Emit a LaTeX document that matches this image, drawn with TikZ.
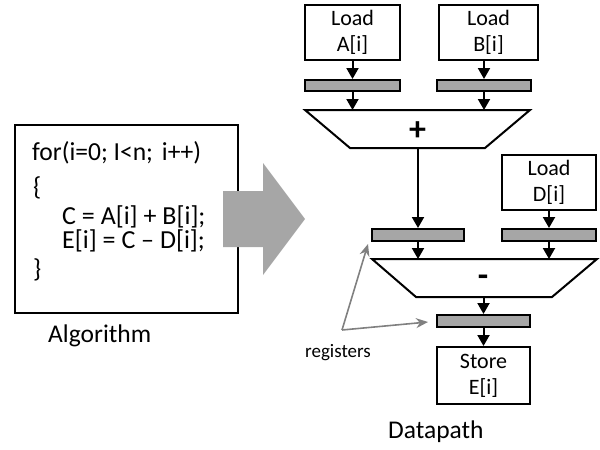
\documentclass[tikz,border=0pt]{standalone}
\usepackage{graphicx}
\usepackage{fontspec}
\setmainfont{Carlito}
\usetikzlibrary{arrows.meta}
\definecolor{regfill}{HTML}{A6A6A6}
\definecolor{bigarrow}{HTML}{A6A6A6}
\definecolor{pointer}{HTML}{808080}

\begin{document}
\begin{tikzpicture}[x=1pt,y=-1pt,
  box/.style={draw, line width=2pt, minimum width=95pt, minimum height=55pt,
    inner sep=0pt, align=center, font=\fontsize{22}{26}\selectfont},
  reg/.style={draw, line width=2pt, fill=regfill, minimum height=11pt,
    inner sep=0pt},
  flow/.style={line width=2pt, -{Triangle[length=11pt,width=12pt]}},
  ptr/.style={draw=pointer, line width=1.6pt, -{Stealth[length=12pt,width=10pt]}},
  unit/.style={draw, line width=2pt, line join=miter},
  code/.style={anchor=base west, inner sep=0pt, font=\fontsize{26}{30}\selectfont},
  caption/.style={anchor=base west, inner sep=0pt, font=\fontsize{25.5}{30}\selectfont},
  opsign/.style={inner sep=0pt, font=\fontsize{34}{36}\selectfont\bfseries},
]
\useasboundingbox (0,0) rectangle (600,450);

% ---------- algorithm ----------
\node[draw, line width=2pt, minimum width=223pt, minimum height=188pt,
  inner sep=0pt] (alg) at (126.5,219) {};
\node[code] (c1) at (32,160) {\resizebox{169pt}{\height}{for(i=0; I<n;\hspace{0.35em}i++)}};
\node[code] (c2) at (33,195) {\{};
\node[code] (c3) at (62,224) {C = A[i] + B[i];};
\node[code] (c4) at (62,248) {E[i] = C – D[i];};
\node[code] (c5) at (33,277) {\}};
\node[caption] (algcap) at (48,342) {Algorithm};

% big arrow from algorithm to datapath
\fill[bigarrow] (223,191) -- (263,191) -- (263,163) -- (305,219)
  -- (263,275) -- (263,247) -- (223,247) -- cycle;

% ---------- datapath ----------
\node[box] (la) at (352.5,32.5) {Load\\A[i]};
\node[box, minimum width=99pt] (lb) at (488.5,32.5) {Load\\B[i]};
\node[reg, minimum width=95pt] (ra) at (352.5,85.5) {};
\node[reg, minimum width=94pt] (rb) at (484,85.5) {};

% adder
\draw[unit] (305,110) -- (530,110) -- (485,148) -- (350,148) -- cycle;
\coordinate (addtop) at (417.5,110);
\coordinate (addout) at (418,148);
\node[opsign] (plus) at (417.5,131) {+};

\node[box, minimum width=94pt] (ld) at (549,182.5) {Load\\D[i]};
\node[reg, minimum width=92pt, minimum height=12pt] (rc) at (418,235) {};
\node[reg, minimum width=94pt, minimum height=12pt] (rd) at (549,235) {};

% subtractor
\draw[unit] (372,259) -- (597,259) -- (552,297) -- (416,297) -- cycle;
\coordinate (subtop) at (484,259);
\coordinate (subout) at (483.5,297);
\node[opsign] (minus) at (483,281) {-};

\node[reg, minimum width=93pt, minimum height=12pt] (re) at (483.5,321) {};
\node[box, minimum width=93pt, minimum height=57pt] (st) at (483.5,375.5) {Store\\E[i]};

% data flow
\draw[flow] (la.south -| ra) -- (ra.north);
\draw[flow] (lb.south -| rb) -- (rb.north);
\draw[flow] (ra.south) -- (ra |- addtop);
\draw[flow] (rb.south) -- (rb |- addtop);
\draw[flow] (addout) -- (rc.north);
\draw[flow] (ld.south) -- (rd.north);
\draw[flow] (rc.south) -- (rc |- subtop);
\draw[flow] (rd.south) -- (rd |- subtop);
\draw[flow] (subout) -- (re.north);
\draw[flow] (re.south) -- (st.north);

% register callout
\coordinate (regsrc) at (342,330);
\coordinate (tipc) at (368,244);
\coordinate (tipe) at (428,322);
\draw[ptr] (regsrc) -- (tipc);
\draw[ptr] (regsrc) -- (tipe);
\node[inner sep=0pt, anchor=base, font=\fontsize{19}{22}\selectfont] (reglbl) at (338,357) {registers};

\node[caption] (dpcap) at (388,438) {Datapath};
\end{tikzpicture}
\end{document}
